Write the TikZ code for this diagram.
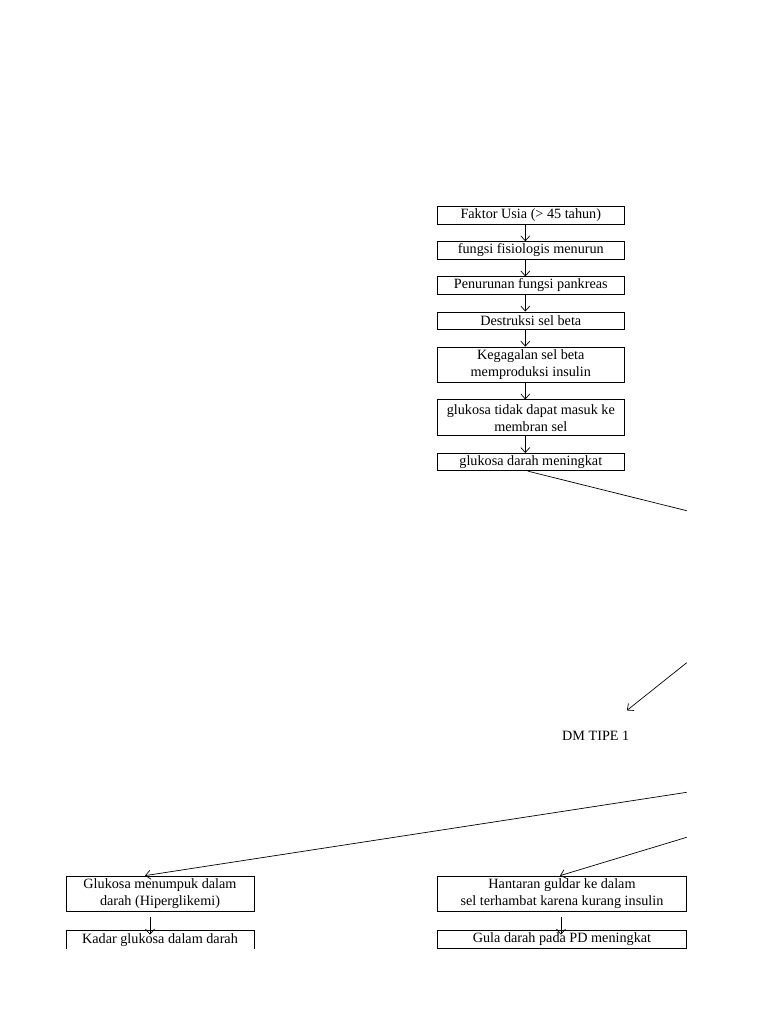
\documentclass[tikz,border=0pt]{standalone}
\usepackage{fontspec}
\setmainfont{Liberation Serif}
\usetikzlibrary{arrows.meta,positioning,calc}
\tikzset{
  box/.style={draw, line width=0.8pt, align=center, inner sep=1pt,
              minimum width=#1, font=\fontsize{14.2}{17}\selectfont},
  flow/.style={-{Straight Barb[length=5pt,width=9pt]}, line width=0.7pt},
  link/.style={line width=0.7pt},
  lbl/.style={font=\fontsize{14.2}{17}\selectfont, inner sep=3.3pt}
}

\begin{document}
\begin{tikzpicture}[x=1pt,y=1pt,node distance=17pt]
  \useasboundingbox (0,0) rectangle (768,-1024);
  \begin{scope}
  \clip (0,0) rectangle (768,-948.2);
  % chain from age to high blood glucose
  \node[box=187pt, minimum height=17.3pt] (usia) at (530.8,-215.3) {Faktor Usia (> 45 tahun)};
  \node[box=187pt, minimum height=17.3pt, below=of usia] (fisio) {fungsi fisiologis menurun};
  \node[box=187pt, minimum height=17.3pt, below=of fisio] (pankreas) {Penurunan fungsi pankreas};
  \node[box=187pt, minimum height=17.3pt, below=of pankreas] (destruksi) {Destruksi sel beta};
  \node[box=187pt, minimum height=35.5pt, below=of destruksi] (gagal) {Kegagalan sel beta\\memproduksi insulin};
  \node[box=187pt, minimum height=35.8pt, below=16.5pt of gagal] (masuk) {glukosa tidak dapat masuk ke\\membran sel};
  \node[box=187pt, minimum height=17.3pt, below=of masuk] (glukd) {glukosa darah meningkat};
  \draw[flow] ($(usia.south)+(-5.5,0)$) -- ($(fisio.north)+(-5.5,0)$);
  \draw[flow] ($(fisio.south)+(-5.5,0)$) -- ($(pankreas.north)+(-5.5,0)$);
  \draw[flow] ($(pankreas.south)+(-5.5,0)$) -- ($(destruksi.north)+(-5.5,0)$);
  \draw[flow] ($(destruksi.south)+(-5.5,0)$) -- ($(gagal.north)+(-5.5,0)$);
  \draw[flow] ($(gagal.south)+(-5.5,0)$) -- ($(masuk.north)+(-5.5,0)$);
  \draw[flow] ($(masuk.south)+(-5.5,0)$) -- ($(glukd.north)+(-5.5,0)$);

  % lines leaving the page on the right
  \coordinate (rA) at (686.7,-510.7);
  \coordinate (rB) at (686.7,-662.7);
  \coordinate (rC) at (686.7,-792.3);
  \coordinate (rD) at (686.7,-837.3);
  \draw[link] ($(glukd.south)+(-3,0)$) -- (rA);

  \node[lbl, anchor=base] (dm) at (595.7,-740) {DM TIPE 1};
  \draw[flow, shorten >=26.8pt] (rB) -- (dm);

  % consequences
  \node[box=188pt, minimum height=35.7pt] (hiper) at (160,-893.9) {Glukosa menumpuk dalam\\darah (Hiperglikemi)};
  \node[box=188pt, text height=11pt, text depth=20pt, inner ysep=2pt, below=17.5pt of hiper] (kadar) {Kadar glukosa dalam darah};
  \node[box=249.4pt, minimum height=35.7pt] (hantaran) at (562,-893.9) {Hantaran guldar ke dalam\\sel terhambat karena kurang insulin};
  \node[box=249.4pt, minimum height=18.2pt, below=17.5pt of hantaran] (gula) {Gula darah pada PD meningkat};
  \draw[flow] (rC) -- ($(hiper.north)+(-15,0)$);
  \draw[flow] (rD) -- ($(hantaran.north)+(-2,0)$);
  \draw[flow] ($(hiper.south)+(-10,-5)$) -- ($(kadar.north)+(-10,-5)$);
  \draw[flow] ($(hantaran.south)+(-1,-5)$) -- ($(gula.north)+(-1,-5)$);
  \end{scope}
\end{tikzpicture}
\end{document}
